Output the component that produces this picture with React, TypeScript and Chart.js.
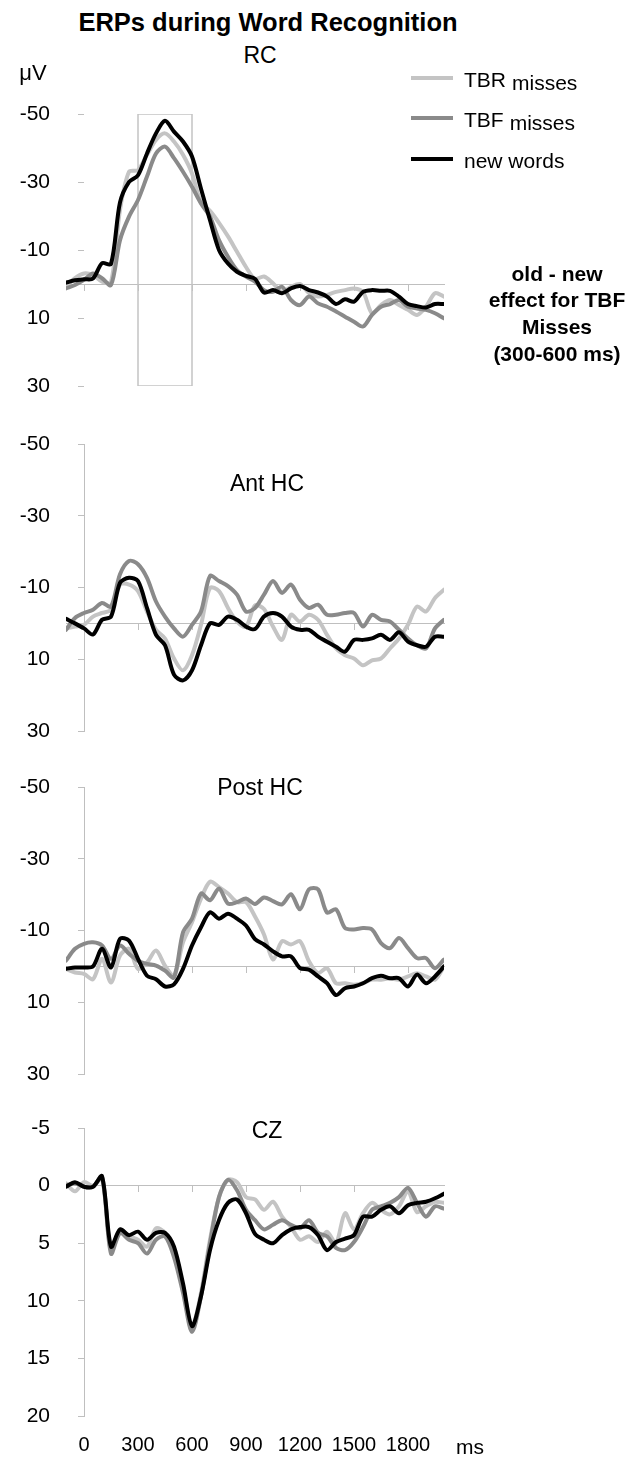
import React, { useEffect, useRef } from 'react';
import { Chart, registerables } from 'chart.js';

Chart.register(...registerables);

// ---------- data ----------
const TIME_MS = [-100, -50, 0, 50, 100, 150, 200, 250, 300, 350, 400, 450, 500, 550, 600, 650, 700, 750, 800, 850, 900, 950, 1000, 1050, 1100, 1150, 1200, 1250, 1300, 1350, 1400, 1450, 1500, 1550, 1600, 1650, 1700, 1750, 1800, 1850, 1900, 1950, 2000];
const X_TICKS = [0, 300, 600, 900, 1200, 1500, 1800];
const SERIES_NAMES = ['TBR misses', 'TBF misses', 'new words'];

// RC
const RC_TBR = [0.8, -1.7, -3.1, -2.6, -0.7, -0.5, -21.8, -33, -33.5, -38, -42.4, -44.3, -41.9, -38, -32.5, -24, -21.5, -18, -14, -9.5, -5, -1.5, -2.2, -0.2, 2.3, 0.8, 0, 2.7, 3.7, 3.2, 2.3, 1.8, 1.3, 2.3, 8.6, 6.2, 4.7, 6.2, 7.6, 9.1, 6.7, 2.7, 3.7];
const RC_TBF = [1.3, 0.3, -1.2, -3.1, -1.7, 0.3, -12.9, -19.8, -24.7, -31.6, -38.4, -40.4, -37, -33, -28.6, -23.7, -19.8, -12.9, -8, -4.1, -2.2, -0.7, 1.8, 2.3, 0.8, 4.7, 6.2, 3.7, 5.7, 6.7, 8.1, 9.6, 11.1, 12.5, 9.1, 6.7, 5.9, 4.7, 6.7, 7.2, 7.6, 8.6, 10.1];
const RC_NEW = [-0.4, -1.1, -1.4, -1.6, -6.1, -5.9, -24, -30, -32, -38.4, -44.3, -48, -44.8, -41.9, -37.5, -28, -18.8, -10, -6, -3.6, -2.4, -1.5, 2.5, 1.8, 2.7, 1.3, 0.6, 1.8, 2.5, 3.7, 5.9, 4.5, 5.2, 2.3, 1.8, 2, 2, 3.7, 5.9, 6.5, 6.9, 5.9, 5.9];
const RC_BOX_MS = [300, 300, 600, 600, 300];
const RC_BOX_UV = [-50, 30, 30, -50, -50];

// Ant HC
const ANT_TBR = [1.4, 0.9, 0.4, -1.9, -2.9, -3.8, -10.8, -10.8, -9, -3.3, 1.8, 4.2, 9.8, 13.1, 8.9, 0.4, -9.9, -9, -4.3, -0.5, 0.9, -5, -4, 0.9, 4.6, -2.4, -0.5, -2.4, -1, 3.2, 7, 8.9, 9.8, 11.7, 10.3, 9.8, 7, 4.2, 0.4, -4.7, -3.3, -7.1, -9.4];
const ANT_TBF = [1.8, -1.5, -2.9, -3.8, -5.7, -4.7, -13.7, -17.4, -16.5, -12.7, -6.1, -1.9, 1.4, 3.7, 0.4, -3.3, -13.2, -11.8, -10.4, -8, -3.3, -4.3, -8, -11.8, -8.5, -10.8, -6.6, -4.3, -5.2, -2.4, -2.4, -2.9, -2.9, 0.9, -2.4, -1, -0.5, 1.8, 4.2, 6.1, 7, 1.4, -1];
const ANT_NEW = [-1.3, 0, 1.4, 3.1, -1, -1.9, -11.3, -12.7, -11.8, -4.3, 3.2, 6.1, 14.3, 15.9, 13.1, 6.1, 0, 0.4, -1.9, -1, 0.9, 1.6, -1.9, -2.9, -1.9, 0.9, 1.8, 1.8, 3.7, 5.1, 6.5, 7.9, 4.6, 4.6, 4.2, 3.2, 4.6, 2.5, 5.1, 6.1, 6.5, 3.7, 3.7];

// Post HC
const POST_TBR = [0.7, 1.7, 2.1, 3.6, -2.1, 4.5, -3, -4.9, 0.7, -1.1, -4.4, -0.2, 2.6, -6.7, -12.3, -18.9, -23.6, -22.1, -20.3, -17.9, -17.9, -13.9, -8.9, -1.9, -7, -6.1, -7, -1.4, 1.9, 0.5, 4.7, 4.7, 5.1, 4.7, 3.7, 3.7, 3.3, 3.7, 2.8, 1.9, 2.8, 3.7, 0];
const POST_TBF = [-1.6, -4.9, -6.3, -6.7, -5.8, -2.1, -5.8, -3.5, -1.6, -0.7, -0.2, 1.2, 3.1, -9.5, -13.3, -20.3, -18.4, -21.7, -17.5, -17.9, -18.9, -17.4, -19.2, -18.2, -17.3, -20.1, -15.9, -21.5, -21.5, -15, -15.9, -10.7, -10.3, -10.7, -10.3, -6.5, -5.1, -7.9, -5.1, -2.3, -2.3, 0.5, -1.9];
const POST_NEW = [0.7, 0.3, 0.3, 0, -4.9, 0.3, -7.7, -7.2, -2.1, 2.6, 3.6, 5.6, 5, 0.7, -5.8, -10.9, -15.1, -13.3, -14.7, -13.3, -11.4, -7.6, -6.1, -4.2, -2.8, -2.8, 0.5, 0.9, 2.8, 4.7, 8, 6.1, 5.6, 4.7, 3.3, 2.6, 3.3, 3.3, 5.6, 2.3, 4.7, 2.8, 0];

// CZ
const CZ_TBR = [-0.2, 0.5, -0.3, 0, -0.6, 5.6, 3.8, 4.4, 4.7, 5.3, 3.7, 4.1, 5.9, 8.8, 12.2, 9.3, 4.7, 1, -0.5, -0.3, 1, 1.2, 2.1, 1.4, 2.7, 3.6, 4.7, 4.4, 4.9, 4, 5, 2.4, 3.8, 2.4, 1.5, 2.1, 2.5, 1.8, 0.5, 2.3, 1.8, 1.4, 1.5];
const CZ_TBF = [0, -0.2, 0.1, 0.1, -0.8, 5.9, 4.1, 4.7, 5, 5.9, 4.7, 4.4, 6.2, 9.3, 12.7, 9.6, 5, 1, -0.5, 0.4, 2.1, 3, 3.8, 3.4, 3, 3.4, 3.7, 3, 4.1, 4.4, 5.4, 5.6, 4.9, 3.6, 2.1, 1.8, 1.5, 1, 0.2, 1.5, 2.7, 1.8, 2];
const CZ_NEW = [0.1, -0.3, 0.1, 0.1, -0.8, 5.3, 3.8, 4.3, 4, 4.7, 4.1, 4.1, 5.3, 8.5, 12.2, 9.6, 5.6, 3, 1.5, 1.2, 2.4, 4.2, 4.7, 5, 4.3, 3.8, 3.6, 3.6, 4.3, 5.6, 4.9, 4.6, 4.3, 2.7, 2.7, 2.1, 1.8, 2.4, 1.7, 1.5, 1.4, 1.1, 0.7];

const RC_Y_TICKS = [-50, -30, -10, 10, 30];
const HC_Y_TICKS = [-50, -30, -10, 10, 30];
const CZ_Y_TICKS = [-5, 0, 5, 10, 15, 20];

// ---------- styling ----------
const FONT = '"Liberation Sans", Arial, Helvetica, sans-serif';
const LIGHT = '#c4c4c4';
const MID = '#8a8a8a';
const DARK = '#000000';
const AXIS = '#bfbfbf';
const PLOT_LEFT = 66;
const PLOT_RIGHT = 444;
const PAGE_W = 643;
const PAGE_H = 1457;
const LINE_W = 4;

const pts = (xs: number[], ys: number[]) => xs.map((x, i) => ({ x, y: ys[i] }));

type PanelProps = {
  chartTop: number;
  chartBottom: number;
  yTicks: number[];
  tbr: number[];
  tbf: number[];
  nw: number[];
  showBorder: boolean;
  showXLabels?: boolean;
  box?: boolean;
};

function Panel(p: PanelProps) {
  const ref = useRef<HTMLCanvasElement | null>(null);
  const padTop = 30;
  const padBottom = p.showXLabels ? PAGE_H - p.chartBottom : 30;
  const canvasTop = p.chartTop - padTop;
  const canvasH = p.chartBottom - p.chartTop + padTop + padBottom;

  useEffect(() => {
    if (!ref.current) return;
    const setTicks = (vals: number[]) => (scale: any) => {
      scale.ticks = vals.map((v) => ({ value: v }));
    };
    const yMin = p.yTicks[0];
    const yMax = p.yTicks[p.yTicks.length - 1];
    const datasets: any[] = [
      { label: SERIES_NAMES[2], data: pts(TIME_MS, p.nw), borderColor: DARK, borderWidth: LINE_W },
      { label: SERIES_NAMES[1], data: pts(TIME_MS, p.tbf), borderColor: MID, borderWidth: LINE_W },
      { label: SERIES_NAMES[0], data: pts(TIME_MS, p.tbr), borderColor: LIGHT, borderWidth: LINE_W },
    ];
    if (p.box) {
      datasets.push({ label: 'window', data: pts(RC_BOX_MS, RC_BOX_UV), borderColor: LIGHT, borderWidth: 1.5, tension: 0 });
    }
    const scales: any = {
      x: {
        type: 'linear',
        min: -100,
        max: 2000,
        position: { y: 0 },
        afterBuildTicks: setTicks(X_TICKS),
        ticks: { display: false },
        grid: { display: true, drawOnChartArea: false, drawTicks: true, tickLength: 6, color: AXIS, lineWidth: 1 },
        border: { display: true, color: AXIS, width: 1 },
      },
      y: {
        type: 'linear',
        min: yMin,
        max: yMax,
        reverse: true,
        position: { x: 0 },
        afterBuildTicks: setTicks(p.yTicks),
        ticks: { display: false },
        grid: { display: true, drawOnChartArea: false, drawTicks: true, tickLength: 6, color: AXIS, lineWidth: 1 },
        border: { display: p.showBorder, color: AXIS, width: 1 },
      },
      yl: {
        type: 'linear',
        axis: 'y',
        min: yMin,
        max: yMax,
        reverse: true,
        position: 'left',
        afterBuildTicks: setTicks(p.yTicks),
        afterFit: (s: any) => {
          s.width = PLOT_LEFT;
        },
        ticks: { display: true, color: '#000', padding: 16, font: { family: FONT, size: 21 }, callback: (v: any) => String(v) },
        grid: { display: false, drawTicks: false },
        border: { display: false },
      },
    };
    if (p.showXLabels) {
      scales.xl = {
        type: 'linear',
        axis: 'x',
        min: -100,
        max: 2000,
        position: { y: yMax },
        afterBuildTicks: setTicks(X_TICKS),
        ticks: {
          display: true,
          color: '#000',
          padding: 17,
          maxRotation: 0,
          autoSkip: false,
          font: { family: FONT, size: 20 },
          callback: (v: any) => String(v),
        },
        grid: { display: false, drawTicks: false },
        border: { display: false },
      };
    }
    const chart = new Chart(ref.current, {
      type: 'line',
      data: { datasets },
      options: {
        animation: false,
        responsive: false,
        devicePixelRatio: 1,
        layout: { padding: { left: 0, right: PAGE_W - PLOT_RIGHT, top: padTop, bottom: padBottom } },
        elements: { point: { radius: 0 }, line: { tension: 0.3, borderCapStyle: 'round', borderJoinStyle: 'round' } },
        plugins: { legend: { display: false }, tooltip: { enabled: false }, title: { display: false } },
        scales,
      } as any,
    });
    return () => chart.destroy();
  }, []);

  return (
    <canvas
      ref={ref}
      width={PAGE_W}
      height={canvasH}
      style={{ position: 'absolute', left: 0, top: canvasTop, width: PAGE_W, height: canvasH }}
    />
  );
}

function Txt(props: { x: number; y: number; size: number; bold?: boolean; align?: 'center' | 'left'; children: any }) {
  const { x, y, size, bold, align = 'center', children } = props;
  return (
    <div
      style={{
        position: 'absolute',
        left: x,
        top: y,
        transform: align === 'center' ? 'translate(-50%, -50%)' : 'translate(0, -50%)',
        fontFamily: FONT,
        fontSize: size,
        fontWeight: bold ? 700 : 400,
        lineHeight: 1,
        whiteSpace: 'nowrap',
        color: '#000',
      }}
    >
      {children}
    </div>
  );
}

const LEGEND = [
  { color: LIGHT, main: 'TBR', sub: 'misses', y: 78 },
  { color: MID, main: 'TBF', sub: 'misses', y: 118 },
  { color: DARK, main: 'new words', sub: '', y: 159 },
];

export default function App() {
  return (
    <div style={{ position: 'absolute', left: 0, top: 0, width: PAGE_W, height: PAGE_H, background: '#fff', overflow: 'hidden' }}>
      <Panel chartTop={114} chartBottom={386} yTicks={RC_Y_TICKS} tbr={RC_TBR} tbf={RC_TBF} nw={RC_NEW} showBorder={false} box />
      <Panel chartTop={444} chartBottom={731} yTicks={HC_Y_TICKS} tbr={ANT_TBR} tbf={ANT_TBF} nw={ANT_NEW} showBorder />
      <Panel chartTop={787} chartBottom={1074} yTicks={HC_Y_TICKS} tbr={POST_TBR} tbf={POST_TBF} nw={POST_NEW} showBorder />
      <Panel chartTop={1128} chartBottom={1416} yTicks={CZ_Y_TICKS} tbr={CZ_TBR} tbf={CZ_TBF} nw={CZ_NEW} showBorder showXLabels />

      <Txt x={268} y={23} size={25.5} bold>ERPs during Word Recognition</Txt>
      <Txt x={260} y={55} size={23}>RC</Txt>
      <Txt x={33} y={73} size={22}>μV</Txt>
      <Txt x={267} y={483} size={23}>Ant HC</Txt>
      <Txt x={260} y={787} size={23}>Post HC</Txt>
      <Txt x={267} y={1130} size={23}>CZ</Txt>
      <Txt x={470} y={1446} size={21}>ms</Txt>

      {LEGEND.map((l) => (
        <React.Fragment key={l.main}>
          <div style={{ position: 'absolute', left: 411, top: l.y - 2, width: 42, height: 4, background: l.color }} />
          <Txt x={464} y={l.y + 1} size={21} align="left">
            {l.main}
            {l.sub ? <span style={{ position: 'relative', top: 3, marginLeft: 6 }}>{l.sub}</span> : null}
          </Txt>
        </React.Fragment>
      ))}

      <Txt x={557} y={273} size={21} bold>old - new</Txt>
      <Txt x={557} y={299} size={21} bold>effect for TBF</Txt>
      <Txt x={557} y={326} size={21} bold>Misses</Txt>
      <Txt x={557} y={353} size={21} bold>(300-600 ms)</Txt>
    </div>
  );
}
